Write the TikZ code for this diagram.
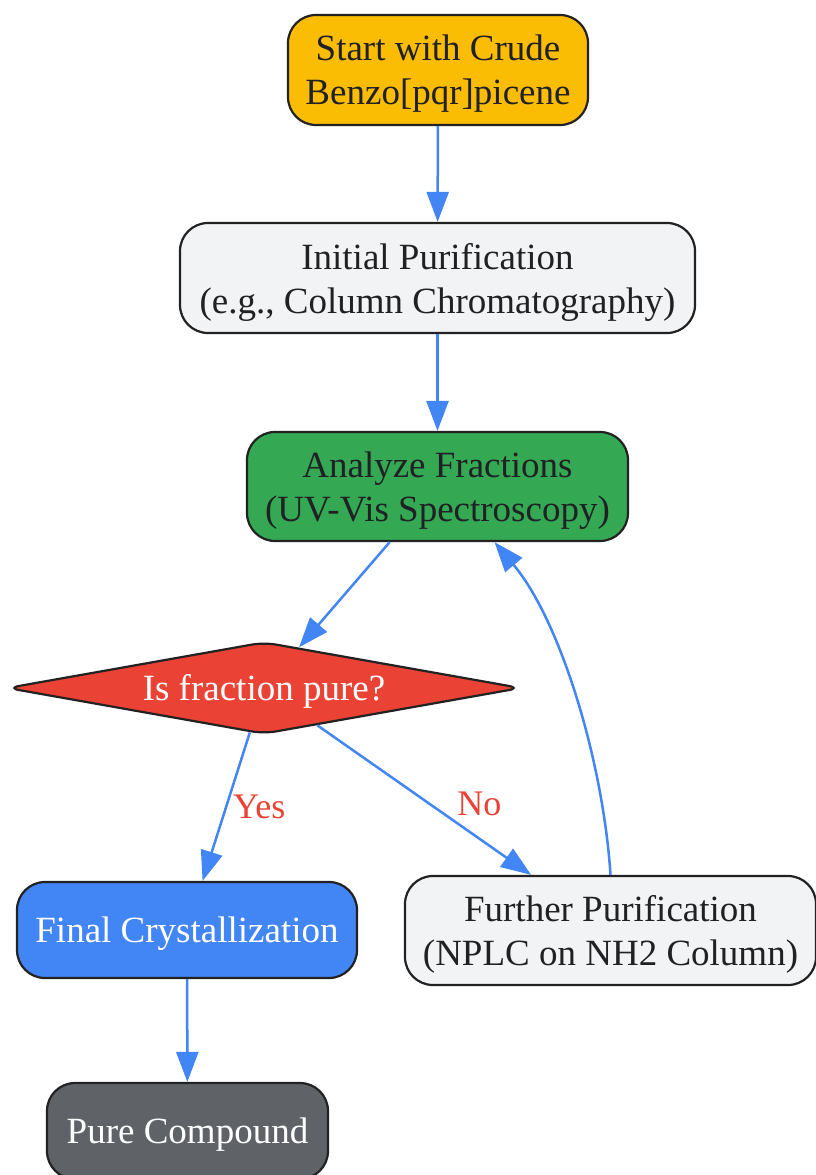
\documentclass[tikz,border=0pt]{standalone}
\usepackage{fontspec}
\setmainfont{Liberation Serif}
\usetikzlibrary{shapes.geometric,arrows.meta}
\definecolor{cyellow}{HTML}{FBBC04}
\definecolor{clight}{HTML}{F1F3F4}
\definecolor{cgreen}{HTML}{34A853}
\definecolor{cred}{HTML}{EA4335}
\definecolor{cblue}{HTML}{4285F4}
\definecolor{cgray}{HTML}{5F6368}
\definecolor{ctext}{HTML}{202124}
\definecolor{cborder}{HTML}{222222}
\tikzset{
  box/.style={draw=cborder, line width=2.2pt, rounded corners=28pt, align=center,
    inner sep=0pt, text depth=-2pt, font=\fontsize{37}{44}\selectfont},
  decision/.style={draw=cborder, line width=2.2pt, diamond, aspect=5.6, rounded corners=12pt,
    inner sep=0pt, text depth=2pt, font=\fontsize{37}{44}\selectfont},
  flow/.style={draw=cblue, line width=2.5pt, -{Triangle[length=30pt,width=22pt]}},
  elabel/.style={text=cred, font=\fontsize{36}{44}\selectfont, inner sep=0pt}
}
\begin{document}
\begin{tikzpicture}[x=1pt,y=-1pt]
\useasboundingbox (0,0) rectangle (816,1175);
\node[box, fill=cyellow, text=ctext, minimum width=300pt, minimum height=110pt]
  (start) at (438,70) {Start with Crude\\Benzo[pqr]picene};
\node[box, fill=clight, text=ctext, minimum width=515pt, minimum height=110pt]
  (init) at (437.5,278) {Initial Purification\\(e.g., Column Chromatography)};
\node[box, fill=cgreen, text=ctext, minimum width=381pt, minimum height=109pt]
  (analyze) at (437.5,486.5) {Analyze Fractions\\(UV-Vis Spectroscopy)};
\node[decision, fill=cred, text=white, minimum width=514pt, minimum height=92pt]
  (pure) at (264,688) {Is fraction pure?};
\node[box, fill=cblue, text=white, minimum width=340pt, minimum height=96pt]
  (final) at (187,930) {Final Crystallization};
\node[box, fill=clight, text=ctext, minimum width=411pt, minimum height=109pt]
  (further) at (610.5,930.5) {Further Purification\\(NPLC on NH2 Column)};
\node[box, fill=cgray, text=white, minimum width=281pt, minimum height=96pt]
  (compound) at (187.5,1131) {Pure Compound};

\draw[flow] (start) -- (init);
\draw[flow] (init) -- (analyze);
\draw[flow] (analyze) -- (pure);
\draw[flow] (pure) -- (final) node[elabel, pos=0.5, xshift=33pt] {Yes};
\draw[flow] (pure) -- (further) node[elabel, pos=0.5, xshift=55pt, yshift=-4pt] {No};
\draw[flow] (further.north) .. controls (603,760) and (560,620) .. ([xshift=57pt]analyze.south);
\draw[flow] (final) -- (compound);
\end{tikzpicture}
\end{document}
